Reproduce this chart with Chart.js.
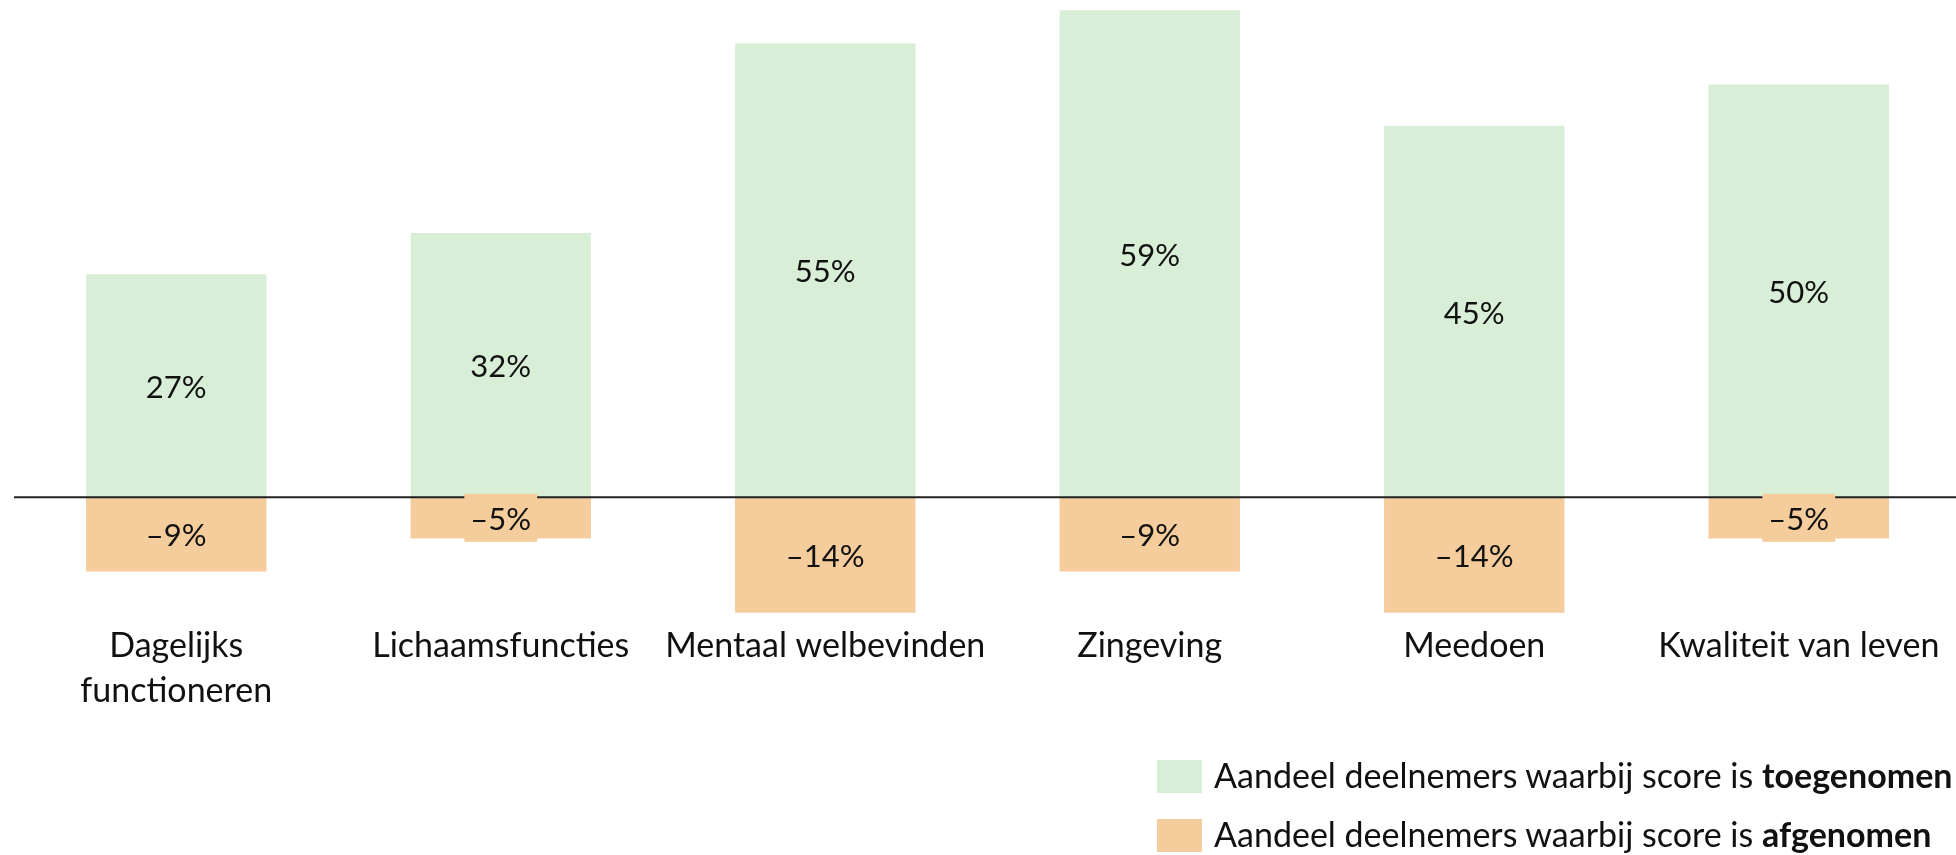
<!DOCTYPE html>
<html>
<head>
<meta charset="utf-8">
<script src="https://cdn.jsdelivr.net/npm/chart.js@4.4.1/dist/chart.umd.min.js"></script>
<style>
  html, body { margin: 0; padding: 0; background: #fff; overflow: hidden; }
  #wrap { position: relative; width: 1961px; height: 855px; }
  #legend { position: absolute; left: 1157px; top: 760px; font-family: Lato, sans-serif; font-size: 34px; color: #111; }
  .row { position: absolute; left: 0; white-space: nowrap; height: 33px; }
  .row .sw { position: absolute; left: 0; top: 0; width: 45px; height: 33px; }
  .row .tx { position: absolute; left: 57px; top: -8px; line-height: 46px; }
</style>
</head>
<body>
<div id="wrap">
  <canvas id="chart"></canvas>
  <div id="legend">
    <div class="row" style="top:0"><span class="sw" style="background:#d9eed7"></span><span class="tx">Aandeel deelnemers waarbij score is <b>toegenomen</b></span></div>
    <div class="row" style="top:59px"><span class="sw" style="background:#f5cd9d"></span><span class="tx">Aandeel deelnemers waarbij score is <b>afgenomen</b></span></div>
  </div>
</div>
<script>
// gegevens
const categorieen = [['Dagelijks', 'functioneren'], 'Lichaamsfuncties', 'Mentaal welbevinden', 'Zingeving', 'Meedoen', 'Kwaliteit van leven'];
const toegenomen = [27, 32, 55, 59, 45, 50];
const afgenomen = [-9, -5, -14, -9, -14, -5];
const groen = '#d9eed7';
const oranje = '#f5cd9d';

// nullijn en waardelabels
const labelsPlugin = {
  id: 'labels',
  afterDatasetsDraw(chart) {
    const c = chart.ctx;
    const area = chart.chartArea;
    const y0 = chart.scales.y.getPixelForValue(0);
    c.save();
    c.strokeStyle = '#222';
    c.lineWidth = 2;
    c.beginPath();
    c.moveTo(area.left, y0);
    c.lineTo(area.right, y0);
    c.stroke();

    c.font = '31px Lato';
    c.textAlign = 'center';
    c.textBaseline = 'middle';
    chart.data.datasets.forEach((ds, i) => {
      chart.getDatasetMeta(i).data.forEach((bar, j) => {
        const v = ds.data[j];
        const txt = (v < 0 ? '\u2013' + Math.abs(v) : v) + '%';
        const cy = (bar.y + bar.base) / 2;
        const w = c.measureText(txt).width + 12;
        c.fillStyle = ds.backgroundColor;
        c.fillRect(bar.x - w / 2, cy - 24, w, 48);
        c.fillStyle = '#111';
        c.fillText(txt, bar.x, cy + 2);
      });
    });
    c.restore();
  }
};

const ctx = document.getElementById('chart').getContext('2d');
const chart = new Chart(ctx, {
  type: 'bar',
  data: {
    labels: categorieen,
    datasets: [
      { label: 'toegenomen', data: toegenomen, backgroundColor: groen },
      { label: 'afgenomen', data: afgenomen, backgroundColor: oranje }
    ]
  },
  options: {
    responsive: true,
    maintainAspectRatio: false,
    animation: false,
    layout: { padding: { top: 2, left: 14, right: 0, bottom: 0 } },
    datasets: { bar: { barPercentage: 0.556, categoryPercentage: 1 } },
    plugins: { legend: { display: false }, tooltip: { enabled: false } },
    scales: {
      x: {
        stacked: true,
        grid: { display: false, drawTicks: false },
        border: { display: false },
        ticks: { color: '#111', font: { family: 'Lato', size: 34, lineHeight: 1.32 }, padding: 3, maxRotation: 0, autoSkip: false },
        afterFit(scale) { scale.height = 234; }
      },
      y: { stacked: true, display: false, min: -15, max: 60 }
    }
  },
  plugins: [labelsPlugin]
});
</script>
</body>
</html>
